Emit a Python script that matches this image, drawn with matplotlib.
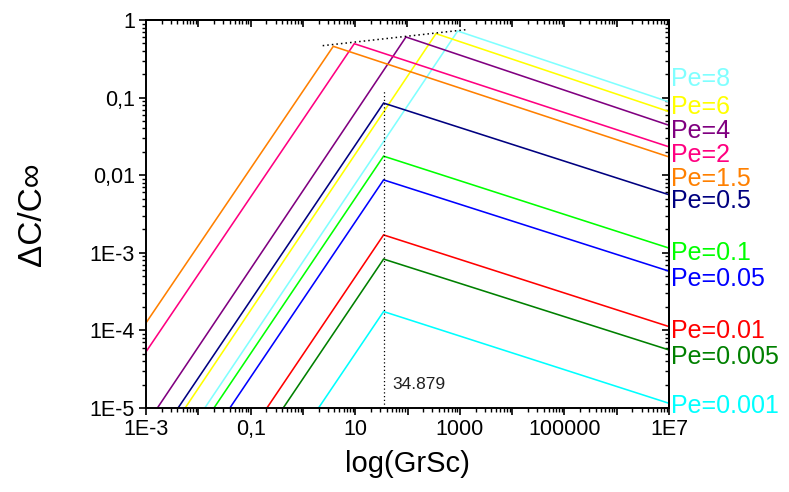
import numpy as np
import matplotlib
matplotlib.use("Agg")
import matplotlib.pyplot as plt
from matplotlib.ticker import FixedLocator, FixedFormatter, LogLocator, NullFormatter

plt.rcParams['font.family'] = ['Liberation Sans', 'DejaVu Sans']

# ---- data ----
pe_labels = ["Pe=8", "Pe=6", "Pe=4", "Pe=2", "Pe=1.5", "Pe=0.5",
             "Pe=0.1", "Pe=0.05", "Pe=0.01", "Pe=0.005", "Pe=0.001"]
colors = ["#80FFFF", "#FFFF00", "#800080", "#FF0080", "#FF8000", "#000080",
          "#00FF00", "#0000FF", "#FF0000", "#008000", "#00FFFF"]
# start point of each curve (where it enters the plot)
x_start = [0.0133, 5.6e-3, 1.65e-3, 1e-3, 1e-3, 4.1e-3,
           0.0199, 0.0401, 0.205, 0.42, 1.99]
y_start = [1e-5, 1e-5, 1e-5, 5.3e-5, 1.25e-4, 1e-5,
           1e-5, 1e-5, 1e-5, 1e-5, 1e-5]
# peak of each curve
x_peak = [912, 351, 93.5, 9.6, 3.81, 34.879,
          34.879, 34.879, 34.879, 34.879, 34.879]
y_peak = [0.721, 0.667, 0.604, 0.495, 0.458, 0.085,
          0.0176, 0.0087, 0.0017, 8.3e-4, 1.75e-4]
# value at GrSc = 1E7
x_end = 1e7
y_end = [0.088, 0.066, 0.044, 0.0232, 0.0172, 5.6e-3,
         1.15e-3, 5.8e-4, 1.12e-4, 5.6e-5, 1.15e-5]

# dotted envelope through peaks and critical value marker
env_x = [2.39, 1297]
env_y = [0.467, 0.75]
crit_x = 34.879
crit_y = [1e-5, 0.12]
crit_text = "34.879"

x_ticks = [1e-3, 1e-2, 1e-1, 1, 10, 100, 1e3, 1e4, 1e5, 1e6, 1e7]
x_ticklabels = ["1E-3", "", "0,1", "", "10", "", "1000", "", "100000", "", "1E7"]
y_ticks = [1e-5, 1e-4, 1e-3, 1e-2, 1e-1, 1]
y_ticklabels = ["1E-5", "1E-4", "1E-3", "0,01", "0,1", "1"]

# label baselines (pixels from top of image)
label_base_px = [86, 114, 138.5, 162, 186, 208, 259.5, 286, 338, 364.5, 413]

W, H = 789, 492
fig = plt.figure(figsize=(W / 100, H / 100), dpi=100)
ax = fig.add_axes([146 / W, 1 - 408 / H, (669 - 146) / W, (408 - 20) / H])
ax.set_xscale('log')
ax.set_yscale('log')
ax.set_xlim(1e-3, 1e7)
ax.set_ylim(1e-5, 1)

for i in range(len(pe_labels)):
    ax.plot([x_start[i], x_peak[i], x_end], [y_start[i], y_peak[i], y_end[i]],
            color=colors[i], lw=1.15, solid_joinstyle='miter', clip_on=True)

ax.plot(env_x, env_y, color='black', ls=(0, (1.0, 2.0)), lw=1.1)
ax.plot([crit_x, crit_x], crit_y, color='black', ls=(0, (1.0, 2.0)), lw=0.9)
ax.text(crit_x * 1.5, 1.75e-5, crit_text, fontsize=12.5, color='#202020',
        ha='left', va='baseline')

for sp in ax.spines.values():
    sp.set_linewidth(1.4)

ax.xaxis.set_major_locator(FixedLocator(x_ticks))
ax.xaxis.set_major_formatter(FixedFormatter(x_ticklabels))
ax.yaxis.set_major_locator(FixedLocator(y_ticks))
ax.yaxis.set_major_formatter(FixedFormatter(y_ticklabels))
ax.xaxis.set_minor_locator(LogLocator(base=10, subs=np.arange(2, 10), numticks=100))
ax.yaxis.set_minor_locator(LogLocator(base=10, subs=np.arange(2, 10), numticks=100))
ax.xaxis.set_minor_formatter(NullFormatter())
ax.yaxis.set_minor_formatter(NullFormatter())
ax.tick_params(which='major', direction='out', length=5, width=1.2,
               labelsize=15.5, pad=3)
ax.tick_params(which='minor', direction='out', length=3, width=1.0)

top = ax.secondary_xaxis('top')
top.xaxis.set_major_locator(FixedLocator(x_ticks))
top.xaxis.set_minor_locator(LogLocator(base=10, subs=np.arange(2, 10), numticks=100))
top.tick_params(which='major', direction='in', length=5, width=1.2, labeltop=False)
top.tick_params(which='minor', direction='in', length=3, width=1.0)
top.spines['top'].set_linewidth(1.4)
right = ax.secondary_yaxis('right')
right.yaxis.set_major_locator(FixedLocator(y_ticks))
right.yaxis.set_minor_locator(LogLocator(base=10, subs=np.arange(2, 10), numticks=100))
right.tick_params(which='major', direction='in', length=5, width=1.2, labelright=False)
right.tick_params(which='minor', direction='in', length=3, width=1.0)
right.spines['right'].set_linewidth(1.4)

ax.set_xlabel("log(GrSc)", fontsize=21, labelpad=7)
ax.set_ylabel("ΔC/C∞", fontsize=24, labelpad=30)

for lab, col, yb in zip(pe_labels, colors, label_base_px):
    fig.text(671 / W, 1 - yb / H, lab, color=col, fontsize=18,
             ha='left', va='baseline')

fig.savefig("out.png", dpi=100)
